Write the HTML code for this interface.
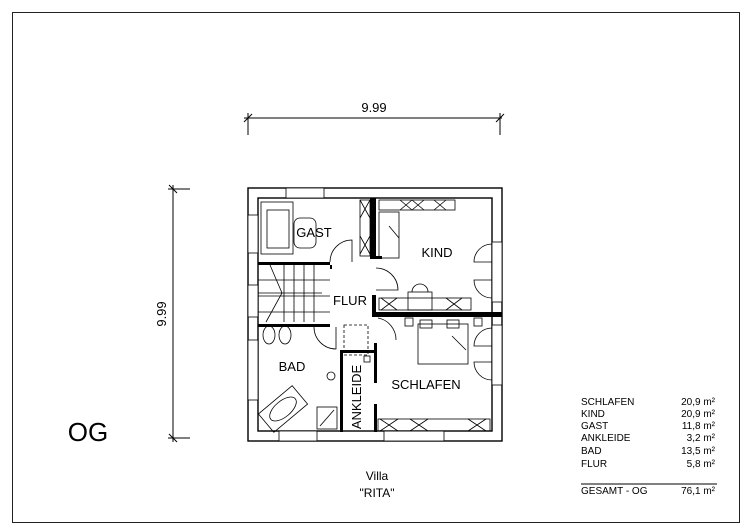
<!DOCTYPE html>
<html><head><style>body{margin:0;background:#fff}svg{display:block}text{font-family:"Liberation Sans",sans-serif;fill:#000}</style></head><body>
<svg width="750" height="530" viewBox="0 0 750 530" xmlns="http://www.w3.org/2000/svg">
<rect x="12.5" y="12.5" width="727" height="510" fill="none" stroke="#222" stroke-width="1"/>
<g stroke="#000" stroke-width="1" fill="none">
<line x1="244" y1="118" x2="502" y2="118"/>
<line x1="248" y1="113" x2="248" y2="135"/><line x1="500" y1="113" x2="500" y2="135"/>
<line x1="244" y1="122" x2="252" y2="114"/><line x1="496" y1="122" x2="504" y2="114"/>
<line x1="173" y1="185" x2="173" y2="442"/>
<line x1="168" y1="189" x2="190" y2="189"/><line x1="168" y1="438" x2="190" y2="438"/>
<line x1="169" y1="185" x2="177" y2="193"/><line x1="169" y1="434" x2="177" y2="442"/>
</g>
<text x="374" y="112" font-size="13" text-anchor="middle">9.99</text>
<text transform="translate(166,314) rotate(-90)" font-size="13" text-anchor="middle">9.99</text>
<g fill="none" stroke="#000" stroke-width="1.4">
<rect x="248" y="188" width="254" height="253"/>
<rect x="258" y="198" width="234" height="233"/>
</g>
<g fill="#fff" stroke="#000" stroke-width="0.8">
<rect x="286" y="188" width="38" height="10"/>
<rect x="248" y="215" width="10" height="38"/>
<rect x="248" y="285" width="10" height="32"/>
<rect x="248" y="340" width="10" height="60"/>
<rect x="279" y="431" width="38" height="10"/>
<rect x="384" y="431" width="60" height="10"/>
<rect x="492" y="242" width="10" height="60"/>
<rect x="492" y="325" width="10" height="60"/>
</g>
<g fill="#000">
<rect x="370" y="198" width="6" height="60"/>
<rect x="370" y="256" width="12" height="3"/>
<rect x="258" y="262" width="72" height="3"/>
<rect x="374" y="312" width="128" height="5"/>
<rect x="372" y="295" width="4" height="22"/>
<rect x="258" y="324" width="72" height="3"/>
<rect x="340" y="350" width="3" height="82"/>
<rect x="340" y="350" width="35" height="3"/>
<rect x="374" y="343" width="3" height="40"/>
<rect x="374" y="404" width="3" height="28"/>
<rect x="330" y="265" width="2" height="4"/>
</g>
<g fill="none" stroke="#000" stroke-width="0.8">
<rect x="261" y="202" width="32" height="52"/><rect x="267" y="210" width="22" height="38"/>
<rect x="294" y="218" width="22" height="30" rx="6"/>
<rect x="360" y="200" width="10" height="56"/>
<path d="M360,200 L370,218 M370,200 L360,218 M360,236 L370,254 M370,236 L360,254"/>
<path d="M330,262 A22,22 0 0 1 352,240 L352,262"/>
<rect x="379" y="200" width="76" height="10"/>
<path d="M400,200 L412,210 M412,200 L400,210 M412,200 L424,210 M424,200 L412,210 M434,200 L446,210 M446,200 L434,210"/>
<rect x="379" y="212" width="20" height="46"/><path d="M389,226 L399,238"/>
<path d="M376,268 A22,22 0 0 1 398,290 L376,290"/>
<path d="M492,244 A18,18 0 0 0 474,262 L492,262 M492,298 A18,18 0 0 1 474,280 L492,280"/>
<rect x="379" y="298" width="92" height="12"/>
<path d="M381,298 L397,310 M397,298 L381,310 M446,298 L462,310 M462,298 L446,310"/>
<rect x="408" y="292" width="24" height="18"/><path d="M412,292 A8,8 0 0 1 428,292"/>
<path d="M258,280 L330,280 M258,296 L330,296 M258,312 L330,312"/>
<path d="M284,265 L284,322 M294,265 L294,322 M304,265 L304,322 M314,265 L314,322 M270,265 L282,293 L266,322 M258,293 L322,293"/>
<rect x="344" y="325" width="24" height="30" stroke-dasharray="3,2"/>
<path d="M314,327 A22,22 0 0 0 336,349 L336,327"/>
<path d="M378,318 A22,22 0 0 1 396,340"/>
<ellipse cx="269" cy="335" rx="6" ry="9"/><ellipse cx="285" cy="335" rx="6" ry="9"/>
<g transform="translate(283,409) rotate(-40)"><rect x="-22" y="-12" width="44" height="24"/><ellipse cx="0" cy="0" rx="16" ry="8"/></g>
<rect x="317" y="407" width="20" height="22"/><path d="M320,426 L334,410"/>
<circle cx="331" cy="376" r="4"/>
<rect x="364" y="356" width="6" height="6"/>
<rect x="418" y="324" width="50" height="40"/><path d="M452,336 L466,350"/>
<rect x="420" y="320" width="12" height="8"/><rect x="447" y="320" width="12" height="8"/>
<rect x="405" y="318" width="8" height="8"/><rect x="474" y="318" width="8" height="8"/>
<path d="M492,328 A18,18 0 0 0 474,346 L492,346 M492,380 A18,18 0 0 1 474,362 L492,362"/>
<rect x="378" y="419" width="112" height="12"/>
<path d="M380,419 L398,431 M398,419 L380,431 M410,419 L428,431 M428,419 L410,431 M468,419 L486,431 M486,419 L468,431"/>
</g>
<g font-size="13">
<text x="314" y="237" text-anchor="middle">GAST</text>
<text x="437" y="257" text-anchor="middle">KIND</text>
<text x="350" y="305" text-anchor="middle">FLUR</text>
<text x="292" y="371" text-anchor="middle">BAD</text>
<text x="426" y="389" text-anchor="middle">SCHLAFEN</text>
<text transform="translate(361,397) rotate(-90)" text-anchor="middle">ANKLEIDE</text>
</g>
<text x="88" y="441" font-size="26" text-anchor="middle">OG</text>
<text x="377" y="480" font-size="12" text-anchor="middle">Villa</text>
<text x="377" y="497" font-size="12" text-anchor="middle">"RITA"</text>
<g font-size="10">
<text x="581" y="405">SCHLAFEN</text><text x="715" y="405" text-anchor="end">20,9 m²</text>
<text x="581" y="417">KIND</text><text x="715" y="417" text-anchor="end">20,9 m²</text>
<text x="581" y="429">GAST</text><text x="715" y="429" text-anchor="end">11,8 m²</text>
<text x="581" y="441">ANKLEIDE</text><text x="715" y="441" text-anchor="end">3,2 m²</text>
<text x="581" y="454">BAD</text><text x="715" y="454" text-anchor="end">13,5 m²</text>
<text x="581" y="467">FLUR</text><text x="715" y="467" text-anchor="end">5,8 m²</text>
<text x="581" y="494">GESAMT - OG</text><text x="715" y="494" text-anchor="end">76,1 m²</text>
</g>
<line x1="581" y1="484" x2="717" y2="484" stroke="#000" stroke-width="1"/>
</svg>
</body></html>
